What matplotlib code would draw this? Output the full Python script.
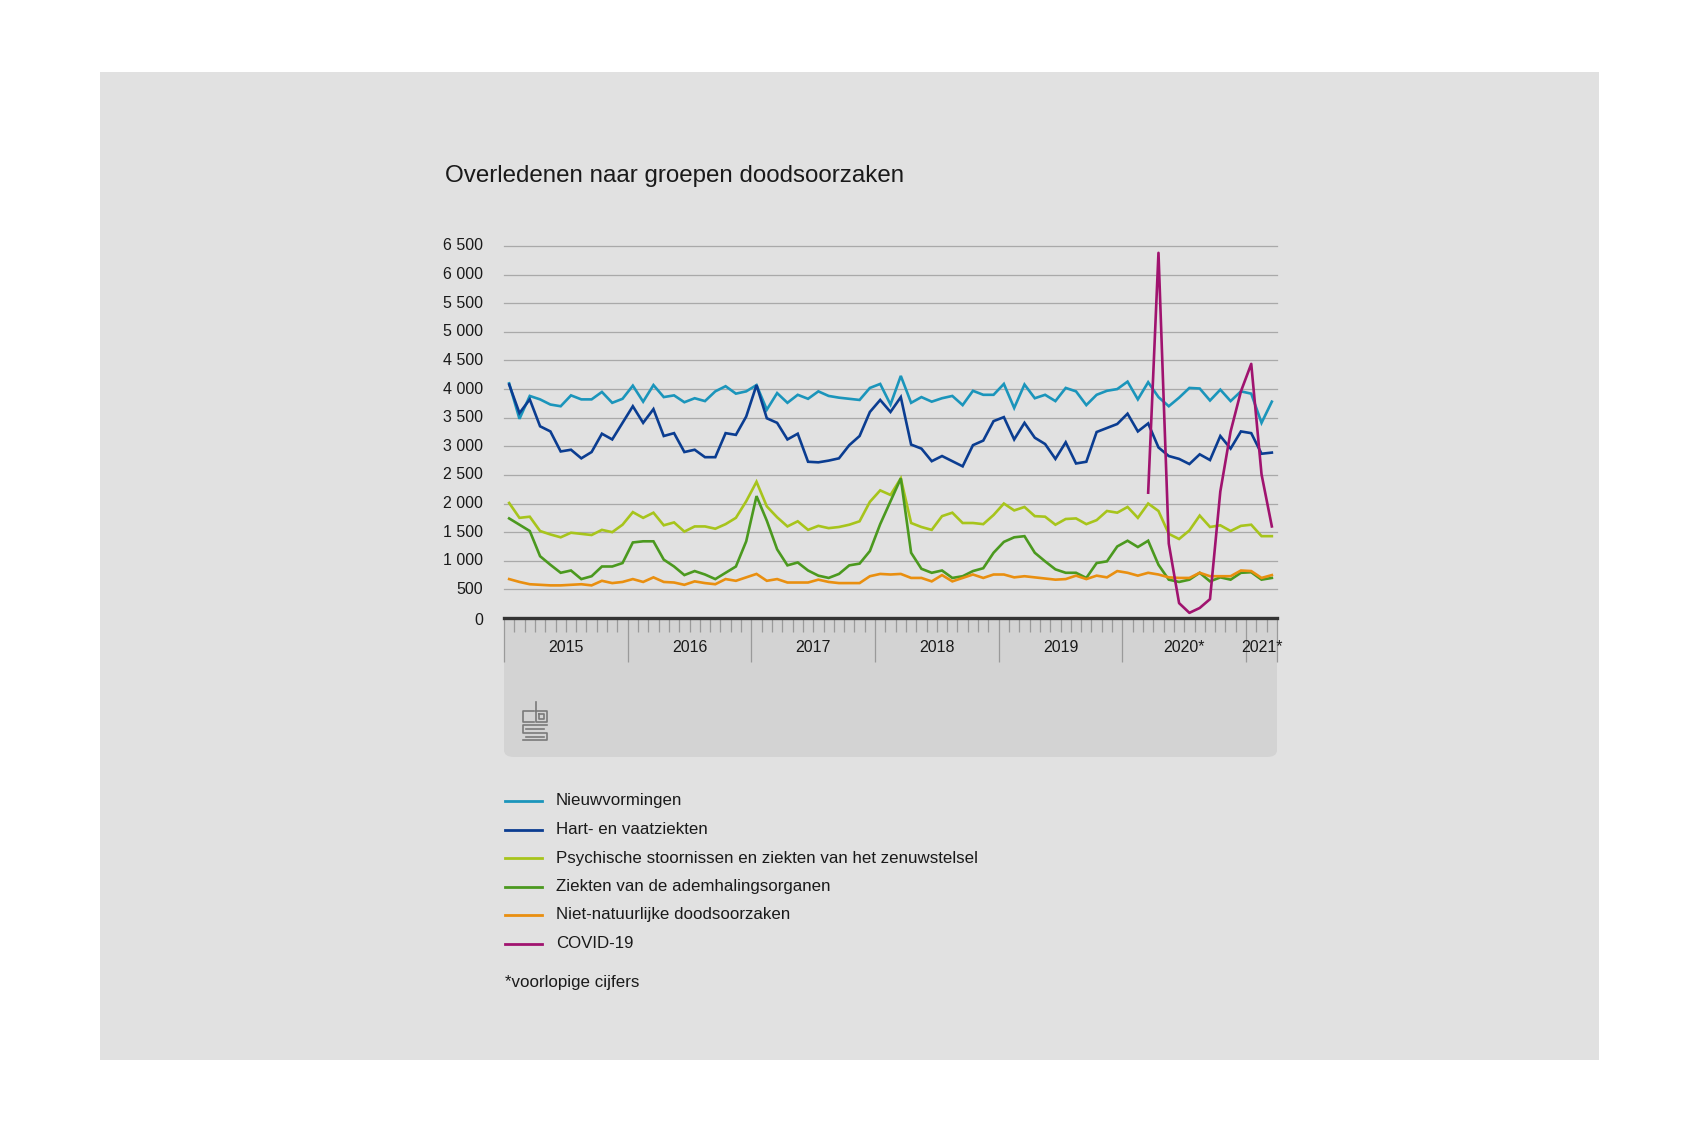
import numpy as np
import matplotlib
matplotlib.use("Agg")
import matplotlib.pyplot as plt
from matplotlib.lines import Line2D
from matplotlib.patches import Rectangle, FancyBboxPatch

plt.rcParams['font.family'] = ['Liberation Sans', 'DejaVu Sans']

# Monthly deaths, Jan 2015 - Mar 2021
nieuwvormingen = [4100, 3480, 3880, 3820, 3730, 3700, 3890, 3820, 3820, 3950, 3760, 3830,
                  4060, 3780, 4070, 3860, 3890, 3770, 3840, 3790, 3960, 4050, 3920, 3960,
                  4070, 3640, 3930, 3760, 3900, 3830, 3960, 3880, 3850, 3830, 3810, 4020,
                  4090, 3730, 4230, 3760, 3860, 3780, 3840, 3880, 3720, 3970, 3900, 3900,
                  4090, 3670, 4080, 3840, 3900, 3790, 4020, 3960, 3720, 3900, 3970, 4000,
                  4130, 3820, 4120, 3860, 3700, 3850, 4020, 4010, 3800, 3990, 3790, 3960,
                  3920, 3410, 3780]
hart_vaat = [4080, 3580, 3820, 3350, 3260, 2910, 2940, 2790, 2900, 3220, 3120, 3410,
             3700, 3410, 3650, 3180, 3230, 2900, 2940, 2810, 2810, 3230, 3200, 3520,
             4070, 3490, 3410, 3120, 3220, 2730, 2720, 2750, 2790, 3020, 3180, 3600,
             3810, 3600, 3860, 3030, 2960, 2740, 2830, 2740, 2650, 3020, 3100, 3440,
             3510, 3120, 3410, 3150, 3040, 2780, 3070, 2700, 2730, 3250, 3320, 3390,
             3570, 3260, 3400, 2980, 2830, 2780, 2690, 2860, 2760, 3180, 2960, 3260,
             3230, 2870, 2890]
psychische = [2010, 1750, 1770, 1520, 1460, 1410, 1490, 1470, 1450, 1540, 1500, 1630,
              1850, 1750, 1840, 1620, 1670, 1510, 1600, 1600, 1560, 1640, 1750, 2040,
              2380, 1950, 1760, 1600, 1690, 1540, 1610, 1570, 1590, 1630, 1690, 2030,
              2230, 2150, 2440, 1660, 1590, 1540, 1780, 1840, 1660, 1660, 1640, 1800,
              2000, 1880, 1940, 1780, 1770, 1630, 1730, 1740, 1640, 1710, 1870, 1840,
              1940, 1750, 2000, 1870, 1470, 1380, 1530, 1790, 1590, 1620, 1520, 1610,
              1630, 1430, 1430]
ademhaling = [1740, 1630, 1520, 1080, 930, 790, 830, 680, 730, 900, 900, 960,
              1320, 1340, 1340, 1020, 900, 750, 820, 760, 680, 790, 900, 1340,
              2130, 1700, 1200, 920, 970, 830, 740, 700, 770, 920, 950, 1170,
              1640, 2040, 2440, 1140, 860, 790, 830, 700, 730, 820, 870, 1140,
              1330, 1410, 1430, 1140, 990, 850, 790, 790, 700, 960, 990, 1250,
              1350, 1240, 1350, 930, 670, 630, 670, 790, 640, 710, 670, 790,
              800, 670, 700]
niet_natuurlijk = [680, 630, 590, 580, 570, 570, 580, 590, 570, 650, 610, 630,
                   680, 630, 710, 630, 620, 580, 640, 610, 590, 680, 650, 710,
                   770, 650, 680, 620, 620, 620, 670, 630, 610, 610, 610, 730,
                   770, 760, 770, 700, 700, 640, 750, 640, 700, 760, 700, 760,
                   760, 710, 730, 710, 690, 670, 680, 740, 680, 740, 710, 820,
                   790, 740, 790, 760, 710, 700, 700, 790, 730, 730, 730, 830,
                   820, 700, 750]
# COVID-19 from Mar 2020 (month index 62)
covid_start = 62
covid = [2190, 6380, 1300, 260, 90, 175, 330, 2210, 3260, 3960, 4440, 2510, 1600]

years = ['2015', '2016', '2017', '2018', '2019', '2020*', '2021*']
year_months = [12, 12, 12, 12, 12, 12, 3]

series_names = ['Nieuwvormingen', 'Hart- en vaatziekten',
                'Psychische stoornissen en ziekten van het zenuwstelsel',
                'Ziekten van de ademhalingsorganen', 'Niet-natuurlijke doodsoorzaken',
                'COVID-19']
colors = ['#1b95bb', '#0b3d91', '#a7c41c', '#4b991f', '#e98f10', '#a0136f']

W, H = 1701, 1134


def fx(x):
    return x / W


def fy(y):
    return 1 - y / H


fig = plt.figure(figsize=(W / 100, H / 100), dpi=100, facecolor='white')

# grey panel and the lighter box under the x axis
panel_col = '#e1e1e1'
fig.add_artist(Rectangle((fx(100), fy(1060)), fx(1599) - fx(100), fy(72) - fy(1060),
                         facecolor=panel_col, edgecolor='none', zorder=-3))
fig.add_artist(FancyBboxPatch((fx(504), fy(757)), fx(1277) - fx(504), fy(600) - fy(757),
                              boxstyle='round,pad=0,rounding_size=0.006',
                              facecolor='#d3d3d3', edgecolor='none', zorder=-2))

ax = fig.add_axes([fx(504), fy(618), fx(1277) - fx(504), fy(246) - fy(618)])
ax.set_facecolor(panel_col)
ax.set_zorder(0)

n = len(nieuwvormingen)
x = np.arange(n) + 0.5
all_series = [nieuwvormingen, hart_vaat, psychische, ademhaling, niet_natuurlijk]
for vals, c in zip(all_series, colors[:5]):
    ax.plot(x, vals, color=c, lw=1.9, solid_joinstyle='miter', zorder=3)
xc = np.arange(covid_start, covid_start + len(covid)) + 0.5
ax.plot(xc, covid, color=colors[5], lw=1.9, zorder=4, clip_on=False)

ax.set_xlim(0, n)
ax.set_ylim(0, 6500)

# gridlines
yticks = list(range(0, 7000, 500))
for v in yticks[1:]:
    ax.axhline(v, color='#a9a9a9', lw=0.9, zorder=1, clip_on=False)
ax.set_yticks([])

# y labels, written by hand so the 0 can sit a bit lower
for v in yticks:
    yy = v if v > 0 else -40
    ax.text(-0.027, yy, f"{v:,}".replace(',', ' '), transform=ax.get_yaxis_transform(),
            ha='right', va='center', fontsize=11.5, color='#1a1a1a', clip_on=False)

for s in ['top', 'right', 'left']:
    ax.spines[s].set_visible(False)
ax.spines['bottom'].set_color('#333333')
ax.spines['bottom'].set_linewidth(2.4)
ax.spines['bottom'].set_zorder(5)

# month ticks and year separators
bounds = np.cumsum([0] + year_months)
ax.set_xticks(bounds)
ax.set_xticklabels([])
ax.set_xticks(np.arange(0, n + 1), minor=True)
ax.tick_params(axis='x', which='major', direction='out', length=32, width=0.9, color='#9a9a9a')
ax.tick_params(axis='x', which='minor', direction='out', length=10, width=0.9, color='#9a9a9a')

for i, yl in enumerate(years):
    mid = (bounds[i] + bounds[i + 1]) / 2
    ax.text(mid, -0.078, yl, transform=ax.get_xaxis_transform(), ha='center', va='center',
            fontsize=11.5, color='#1a1a1a', clip_on=False)

# title
fig.text(fx(445), fy(176), 'Overledenen naar groepen doodsoorzaken', fontsize=17.4,
         color='#1a1a1a', ha='left', va='center')

# cbs logo (rough line drawing)
logo = [[(534, 711), (523, 711), (523, 722), (534, 722)],
        [(536, 702), (536, 722), (547, 722), (547, 711), (536, 711)],
        [(539, 714), (539, 719), (544, 719), (544, 714), (539, 714)],
        [(547, 725), (523, 725), (523, 732.5), (547, 732.5), (547, 740), (523, 740)],
        [(544, 728.5), (526, 728.5)],
        [(526, 736.5), (544, 736.5)]]
for pts in logo:
    xs = [fx(p[0]) for p in pts]
    ys = [fy(p[1]) for p in pts]
    fig.add_artist(Line2D(xs, ys, color='#7a7a7a', lw=1.2))

# legend
for k, (name, c) in enumerate(zip(series_names, colors)):
    ly = 801 + 28.5 * k
    fig.add_artist(Line2D([fx(505), fx(542)], [fy(ly), fy(ly)], color=c, lw=2.0))
    fig.text(fx(556), fy(ly), name, fontsize=12.2, color='#1a1a1a', ha='left', va='center')
fig.text(fx(505), fy(982), '*voorlopige cijfers', fontsize=12.2, color='#1a1a1a',
         ha='left', va='center')

fig.savefig('out.png', dpi=100, facecolor='white')
